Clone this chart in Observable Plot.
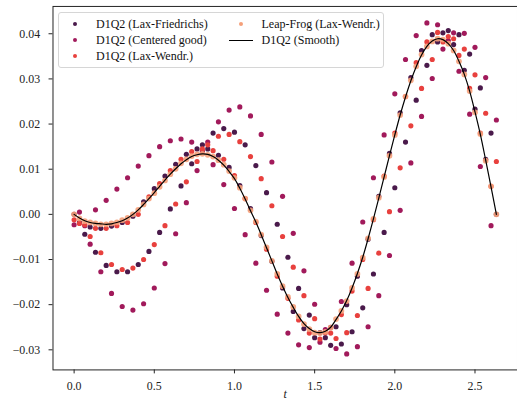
<!DOCTYPE html>
<html><head><meta charset="utf-8">
<script src="https://cdn.jsdelivr.net/npm/d3@7"></script>
<script src="https://cdn.jsdelivr.net/npm/@observablehq/plot@0.6"></script>
<style>
html,body{margin:0;padding:0;overflow:hidden;background:#fff;}
#wrap{position:relative;width:517px;height:407px;overflow:hidden;}
#wrap svg{position:absolute;left:0;top:0;}
.leg{position:absolute;left:58px;top:12px;width:324px;height:54px;border:1px solid #d6d6d6;border-radius:3px;background:rgba(255,255,255,0.8);font-family:"Liberation Serif","Times New Roman",Times,"DejaVu Serif","Noto Serif",FreeSerif,serif;font-size:12px;color:#111;}
.item{position:absolute;white-space:nowrap;line-height:14px;height:14px;}
.dot{position:absolute;width:4px;height:4px;border-radius:50%;}
.ln{position:absolute;height:1.3px;background:#000;}
</style></head><body><div id="wrap"></div>
<script>
// time step and count
const dt = 1 / 30;
const xTicks = [0, 0.5, 1, 1.5, 2, 2.5];
const yTicks = [-0.03, -0.02, -0.01, 0, 0.01, 0.02, 0.03, 0.04];
const seriesNames = ["D1Q2 (Lax-Friedrichs)", "D1Q2 (Centered good)", "D1Q2 (Lax-Wendr.)", "Leap-Frog (Lax-Wendr.)", "D1Q2 (Smooth)"];
const colors = ["#4a1a4b", "#a11a5b", "#e8413e", "#f5a07a", "#000000"];

const laxFriedrichs = [
 0.0000,-0.0018,-0.0044,-0.0028,-0.0084,-0.0031,-0.0113,-0.0026,-0.0127,-0.0018,
-0.0127,-0.0004,-0.0111, 0.0028,-0.0082, 0.0057,-0.0040, 0.0085, 0.0012, 0.0111,
 0.0063, 0.0133, 0.0112, 0.0145, 0.0154, 0.0145, 0.0180, 0.0131, 0.0190, 0.0104,
 0.0182, 0.0064, 0.0154, 0.0013, 0.0108,-0.0047, 0.0048,-0.0104,-0.0022,-0.0163,
-0.0095,-0.0215,-0.0164,-0.0253,-0.0223,-0.0273,-0.0262,-0.0273,-0.0290,-0.0249,
-0.0287,-0.0200,-0.0260,-0.0137,-0.0207,-0.0055,-0.0132, 0.0040,-0.0040, 0.0135,
 0.0059, 0.0225, 0.0160, 0.0303, 0.0253, 0.0363, 0.0330, 0.0398, 0.0382, 0.0402,
 0.0407, 0.0376, 0.0398, 0.0319, 0.0355, 0.0233, 0.0280, 0.0122, 0.0180, 0.0000];

const centeredGood = [
-0.0023, 0.0005,-0.0025,-0.0066, 0.0010,-0.0127, 0.0031,-0.0175, 0.0056,-0.0204,
 0.0081,-0.0212, 0.0107,-0.0198, 0.0130,-0.0163, 0.0150,-0.0109, 0.0163,-0.0043,
 0.0167, 0.0026, 0.0160, 0.0097, 0.0140, 0.0160, 0.0110, 0.0205, 0.0066, 0.0231,
 0.0013, 0.0238,-0.0045, 0.0218,-0.0108, 0.0177,-0.0168, 0.0116,-0.0221, 0.0040,
-0.0263,-0.0042,-0.0289,-0.0125,-0.0295,-0.0199,-0.0283,-0.0255,-0.0250,-0.0297,
-0.0193,-0.0309,-0.0108,-0.0293,-0.0017,-0.0249, 0.0081,-0.0180, 0.0176,-0.0091,
 0.0267, 0.0009, 0.0343, 0.0114, 0.0396, 0.0217, 0.0424, 0.0301, 0.0420, 0.0366,
 0.0385, 0.0402, 0.0317, 0.0401, 0.0222, 0.0370, 0.0106, 0.0303,-0.0025, 0.0209];

const laxWendroff = [
-0.0012,-0.0020,-0.0023,-0.0049,-0.0031,-0.0085,-0.0031,-0.0111,-0.0025,-0.0122,
-0.0018,-0.0119, 0.0000,-0.0100, 0.0039,-0.0067, 0.0068,-0.0025, 0.0097, 0.0023,
 0.0122, 0.0072, 0.0139, 0.0117, 0.0145, 0.0154, 0.0141, 0.0173, 0.0122, 0.0177,
 0.0086, 0.0161, 0.0035, 0.0128,-0.0018, 0.0079,-0.0077, 0.0019,-0.0137,-0.0049,
-0.0186,-0.0117,-0.0234,-0.0180,-0.0263,-0.0231,-0.0276,-0.0262,-0.0263,-0.0275,
-0.0222,-0.0262,-0.0170,-0.0224,-0.0100,-0.0164,-0.0012,-0.0086, 0.0085, 0.0006,
 0.0180, 0.0103, 0.0261, 0.0196, 0.0336, 0.0279, 0.0382, 0.0343, 0.0403, 0.0382,
 0.0394, 0.0389, 0.0352, 0.0366, 0.0279, 0.0309, 0.0180, 0.0224, 0.0062, 0.0117];

const leapFrog = [
 0.0000,-0.0009,-0.0015,-0.0018,-0.0020,-0.0022,-0.0022,-0.0020,-0.0018,-0.0013,
-0.0008, 0.0000, 0.0010, 0.0022, 0.0035, 0.0047, 0.0061, 0.0075, 0.0089, 0.0101,
 0.0113, 0.0122, 0.0129, 0.0133, 0.0134, 0.0132, 0.0128, 0.0120, 0.0110, 0.0096,
 0.0081, 0.0059, 0.0035, 0.0009,-0.0016,-0.0045,-0.0073,-0.0103,-0.0132,-0.0159,
-0.0183,-0.0205,-0.0226,-0.0243,-0.0254,-0.0262,-0.0263,-0.0260,-0.0251,-0.0232,
-0.0214,-0.0192,-0.0163,-0.0132,-0.0096,-0.0053,-0.0010, 0.0037, 0.0083, 0.0130,
 0.0176, 0.0220, 0.0261, 0.0297, 0.0328, 0.0354, 0.0372, 0.0383, 0.0389, 0.0387,
 0.0378, 0.0363, 0.0339, 0.0310, 0.0273, 0.0226, 0.0178, 0.0119, 0.0062, 0.0000];

const smooth = [
 0.0000,-0.0008,-0.0014,-0.0018,-0.0020,-0.0021,-0.0022,-0.0021,-0.0018,-0.0014,
-0.0008, 0.0000, 0.0010, 0.0022, 0.0035, 0.0048, 0.0062, 0.0076, 0.0089, 0.0101,
 0.0112, 0.0121, 0.0128, 0.0132, 0.0134, 0.0133, 0.0128, 0.0120, 0.0109, 0.0095,
 0.0079, 0.0058, 0.0034, 0.0008,-0.0017,-0.0045,-0.0074,-0.0103,-0.0132,-0.0159,
-0.0184,-0.0206,-0.0226,-0.0242,-0.0253,-0.0260,-0.0262,-0.0259,-0.0250,-0.0233,
-0.0214,-0.0191,-0.0163,-0.0131,-0.0095,-0.0054,-0.0010, 0.0036, 0.0083, 0.0130,
 0.0176, 0.0220, 0.0260, 0.0296, 0.0327, 0.0353, 0.0372, 0.0384, 0.0389, 0.0387,
 0.0378, 0.0363, 0.0339, 0.0310, 0.0273, 0.0227, 0.0177, 0.0120, 0.0061, 0.0000];

const toRows = vals => vals.map((v, i) => ({t: i * dt, v}));
const fmtY = d => (d < 0 ? "\u2212" : "") + Math.abs(d).toFixed(2);
const serif = "'Liberation Serif', 'Times New Roman', Times, 'DejaVu Serif', 'Noto Serif', FreeSerif, serif";

const chart = Plot.plot({
  width: 522, height: 407,
  marginLeft: 53, marginRight: 0, marginTop: 6, marginBottom: 34,
  style: {fontFamily: serif, fontSize: "12px", color: "#222", background: "#fff"},
  x: {domain: [-0.1317, 2.765]},
  y: {domain: [-0.03445, 0.04605]},
  marks: [
    Plot.dot(toRows(laxFriedrichs), {x: "t", y: "v", r: 2.6, fill: colors[0]}),
    Plot.dot(toRows(centeredGood), {x: "t", y: "v", r: 2.6, fill: colors[1]}),
    Plot.dot(toRows(laxWendroff), {x: "t", y: "v", r: 2.6, fill: colors[2]}),
    Plot.dot(toRows(leapFrog), {x: "t", y: "v", r: 2.9, fill: colors[3], fillOpacity: 0.9}),
    Plot.line(toRows(smooth), {x: "t", y: "v", stroke: colors[4], strokeWidth: 1.2, curve: "catmull-rom"}),
    Plot.axisX({ticks: xTicks, tickSize: 4, tickPadding: 8, tickFormat: d => d.toFixed(1), label: null, stroke: "#222", fontFamily: serif, fontSize: 12}),
    Plot.axisY({ticks: yTicks, tickSize: 4, tickPadding: 9, tickFormat: fmtY, label: null, stroke: "#222", fontFamily: serif, fontSize: 12}),
    Plot.text(["t"], {frameAnchor: "bottom", lineAnchor: "middle", dy: 25, text: d => d, fontStyle: "italic", fontSize: 12, fontFamily: serif}),
    Plot.frame({stroke: "#222", strokeWidth: 1})
  ]
});
const wrap = document.getElementById("wrap");
wrap.appendChild(chart);

// legend (HTML overlay)
const leg = document.createElement("div");
leg.className = "leg";
const legItems = [
  {name: seriesNames[0], c: colors[0], type: "dot", x: 16, y: 10.7, tx: 37},
  {name: seriesNames[1], c: colors[1], type: "dot", x: 16, y: 27.3, tx: 37},
  {name: seriesNames[2], c: colors[2], type: "dot", x: 16, y: 43, tx: 37},
  {name: seriesNames[3], c: colors[3], type: "dot", x: 182, y: 10.7, tx: 202.5},
  {name: seriesNames[4], c: colors[4], type: "line", x: 182, y: 27.3, tx: 202.5}
];
for (const it of legItems) {
  if (it.type === "dot") {
    const d = document.createElement("div");
    d.className = "dot";
    d.style.background = it.c;
    d.style.left = (it.x - 2) + "px";
    d.style.top = (it.y - 2) + "px";
    leg.appendChild(d);
  } else {
    const l = document.createElement("div");
    l.className = "ln";
    l.style.left = (it.x - 12) + "px";
    l.style.width = "24px";
    l.style.top = (it.y - 0.6) + "px";
    leg.appendChild(l);
  }
  const s = document.createElement("div");
  s.className = "item";
  s.textContent = it.name;
  s.style.left = it.tx + "px";
  s.style.top = (it.y - 7) + "px";
  leg.appendChild(s);
}
wrap.appendChild(leg);
</script></body></html>
